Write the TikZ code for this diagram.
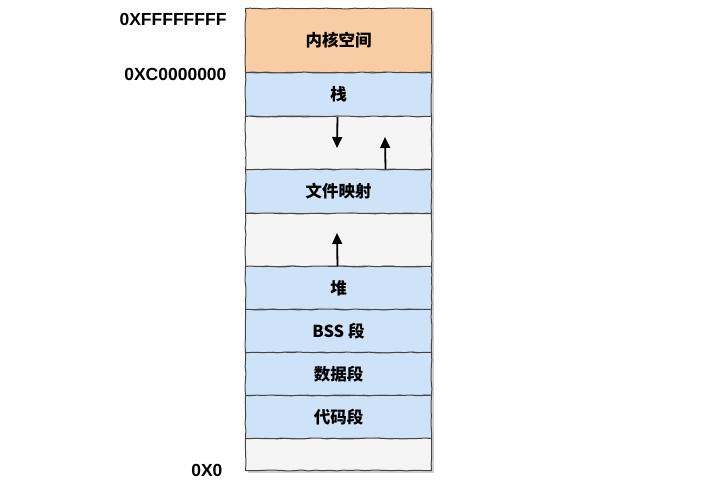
\documentclass[tikz,border=0pt]{standalone}
\usepackage{fontspec}
\newfontfamily\cjk{Noto Sans CJK SC}
\newfontfamily\lab{Liberation Sans}
\usetikzlibrary{decorations.pathmorphing,arrows.meta}
\definecolor{kern}{HTML}{F9CDA3}
\definecolor{seg}{HTML}{CFE3F8}
\definecolor{gap}{HTML}{F5F5F5}
\definecolor{edge}{HTML}{454545}
\tikzset{
  memseg/.style={rectangle, anchor=north west, minimum width=186pt, inner sep=0pt,
    draw=edge, line width=1pt, font=\cjk\bfseries\fontsize{16.5}{16.5}\selectfont, text=black,
    decorate, decoration={random steps, segment length=7pt, amplitude=0.5pt}},
  addr/.style={anchor=east, font=\lab\bfseries\fontsize{17.5}{17.5}\selectfont, text=black},
  growarrow/.style={-{Triangle[length=11pt,width=10pt]}, line width=1.8pt, black}
}
\begin{document}
\begin{tikzpicture}[x=1pt,y=-1pt]
\useasboundingbox (0,0) rectangle (716,500);
% shadow
\fill[black!18] (248,11) rectangle (434,473);
\node[memseg, fill=kern, minimum height=64pt] (kernel) at (245,8) {内核空间};
\node[memseg, fill=seg, minimum height=44pt] (stack) at (245,72) {栈};
\node[memseg, fill=gap, minimum height=53pt] (gap1) at (245,116) {};
\node[memseg, fill=seg, minimum height=44pt] (fmap) at (245,169) {文件映射};
\node[memseg, fill=gap, minimum height=53pt] (gap2) at (245,213) {};
\node[memseg, fill=seg, minimum height=43pt] (heap) at (245,266) {堆};
\node[memseg, fill=seg, minimum height=43pt] (bss) at (245,309) {BSS 段};
\node[memseg, fill=seg, minimum height=43pt] (data) at (245,352) {数据段};
\node[memseg, fill=seg, minimum height=43pt] (code) at (245,395) {代码段};
\node[memseg, fill=gap, minimum height=32pt] (low) at (245,438) {};
% addresses
\node[addr] (a1) at (230,19) {0XFFFFFFFF};
\node[addr] (a2) at (230,74) {0XC0000000};
\node[addr] (a3) at (226,470) {0X0};
% growth arrows
\coordinate (s1) at (337,148);
\coordinate (f1) at (385,137);
\coordinate (h1) at (337,233);
\draw[growarrow] (stack.south) ++(-1,0) -- (s1);
\draw[growarrow] (fmap.north) ++(47,0) -- (f1);
\draw[growarrow] (heap.north) ++(-1,0) -- (h1);
\end{tikzpicture}
\end{document}
